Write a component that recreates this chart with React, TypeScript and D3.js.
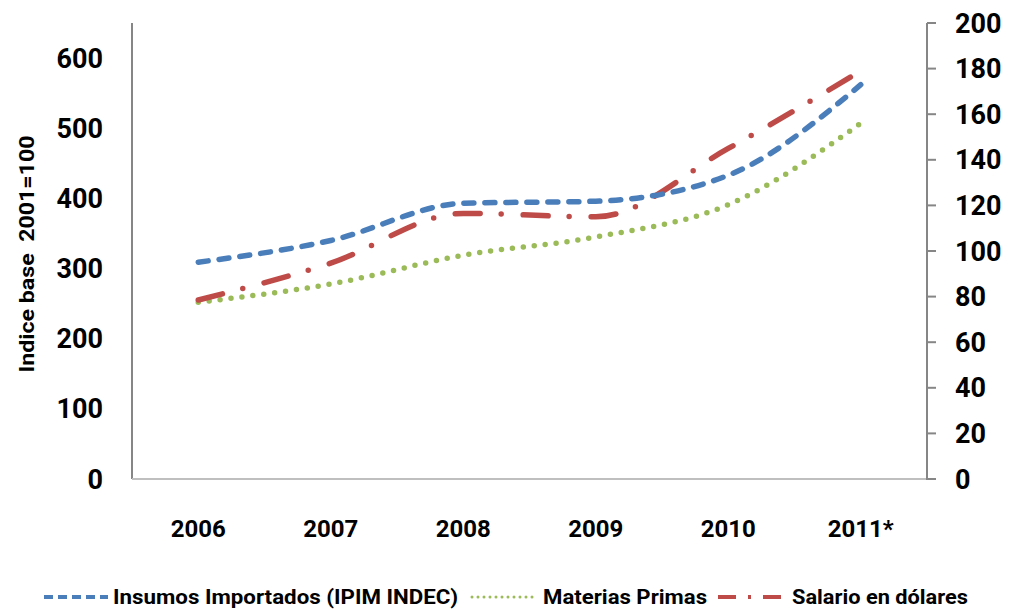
import React from "react";
import * as d3 from "d3";

const categories = ["2006", "2007", "2008", "2009", "2010", "2011*"];
const insumos = [309, 340, 393, 396, 433, 562];
const materias = [252, 278, 319, 345, 391, 507];
const salario = [78.5, 94.7, 116.5, 115, 145, 179];
const leftTicks = [0, 100, 200, 300, 400, 500, 600];
const rightTicks = [0, 20, 40, 60, 80, 100, 120, 140, 160, 180, 200];

const W = 1022, H = 610;
const X0 = 132, X1 = 927, Y0 = 479, Y1 = 23;
const FONT = "Roboto, 'Open Sans', sans-serif";

export default function App() {
  const x = d3.scaleBand<string>().domain(categories).range([X0, X1]);
  const cx = (c: string) => (x(c) as number) + x.bandwidth() / 2;
  const yL = d3.scaleLinear().domain([0, 650]).range([Y0, Y1]);
  const yR = d3.scaleLinear().domain([0, 200]).range([Y0, Y1]);

  const lineL = d3.line<number>().x((_, i) => cx(categories[i])).y((d) => yL(d)).curve(d3.curveMonotoneX);
  const lineR = d3.line<number>().x((_, i) => cx(categories[i])).y((d) => yR(d)).curve(d3.curveMonotoneX);

  const blue = "#4a7ebb";
  const green = "#9bbb59";
  const red = "#be4b48";

  return (
    <svg width={W} height={H} style={{ position: "absolute", left: 0, top: 0, background: "#fff" }}>
      {/* axes */}
      <line x1={X0} x2={X0} y1={Y1} y2={Y0} stroke="#868686" strokeWidth={2} />
      <line x1={X0} x2={X1} y1={Y0} y2={Y0} stroke="#bfbfbf" strokeWidth={2} />
      <line x1={X1} x2={X1} y1={Y1} y2={Y0 + 1} stroke="#868686" strokeWidth={2} />
      {rightTicks.map((t) => (
        <g key={"r" + t}>
          <line x1={X1} x2={X1 + 9} y1={yR(t)} y2={yR(t)} stroke="#868686" strokeWidth={2} />
          <text x={955} y={yR(t) + 9.5} fontFamily={FONT} fontWeight="bold" fontSize={27} fill="#000">{t}</text>
        </g>
      ))}
      {leftTicks.map((t) => (
        <text key={"l" + t} x={103} y={yL(t) + 9.5} textAnchor="end" fontFamily={FONT} fontWeight="bold" fontSize={27} fill="#000">{t}</text>
      ))}
      {categories.map((c) => (
        <text key={c} x={cx(c)} y={537} textAnchor="middle" fontFamily={FONT} fontWeight="bold" fontSize={24} fill="#000">{c}</text>
      ))}
      <text transform="translate(34,254) rotate(-90)" textAnchor="middle" fontFamily={FONT} fontWeight="bold" fontSize={21} fill="#000" textLength={237} lengthAdjust="spacingAndGlyphs" style={{ whiteSpace: "pre" }}>
        {"Indice base  2001=100"}
      </text>

      {/* series */}
      <path d={lineL(materias) || ""} fill="none" stroke={green} strokeWidth={5.5} strokeDasharray="0 11" strokeLinecap="round" />
      <path d={lineR(salario) || ""} fill="none" stroke={red} strokeWidth={5.5} strokeDasharray="25 21 0 22" strokeLinecap="round" />
      <path d={lineL(insumos) || ""} fill="none" stroke={blue} strokeWidth={5.5} strokeDasharray="10 11" strokeLinecap="round" />

      {/* legend */}
      <line x1={44} x2={108} y1={597} y2={597} stroke={blue} strokeWidth={4} strokeDasharray="9 5" />
      <text x={113} y={604} fontFamily={FONT} fontWeight="bold" fontSize={20} textLength={345} lengthAdjust="spacingAndGlyphs">Insumos Importados (IPIM INDEC)</text>
      <line x1={472} x2={536} y1={597} y2={597} stroke={green} strokeWidth={3} strokeDasharray="0 6" strokeLinecap="round" />
      <text x={543} y={604} fontFamily={FONT} fontWeight="bold" fontSize={20} textLength={164} lengthAdjust="spacingAndGlyphs">Materias Primas</text>
      <line x1={718} x2={784} y1={597} y2={597} stroke={red} strokeWidth={4} strokeDasharray="18 12 3 12" />
      <text x={792} y={604} fontFamily={FONT} fontWeight="bold" fontSize={20} textLength={176} lengthAdjust="spacingAndGlyphs">Salario en dólares</text>
    </svg>
  );
}
